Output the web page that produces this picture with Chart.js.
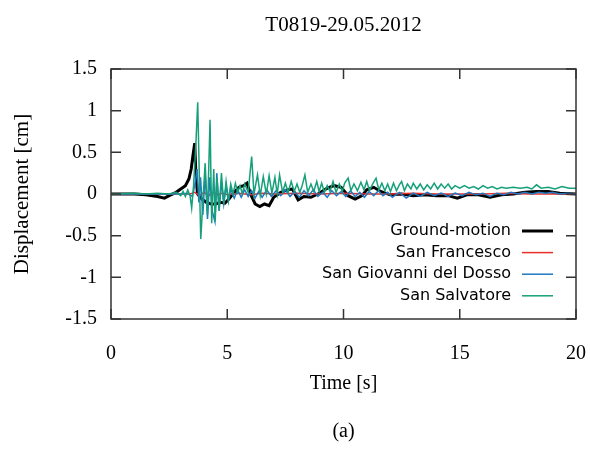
<!DOCTYPE html>
<html lang="en">
<head>
<meta charset="UTF-8">
<title>T0819-29.05.2012</title>
<script src="https://cdn.jsdelivr.net/npm/chart.js"></script>
<style>
  body { margin: 0; background: #fff; }
  #wrap { width: 590px; height: 449px; }
</style>
</head>
<body>
<div id="wrap"><canvas id="dispChart" width="590" height="449"></canvas></div>
<script>
// values (time in s, displacement in cm)
const xTicks = [0, 5, 10, 15, 20];
const yTicks = [-1.5, -1, -0.5, 0, 0.5, 1, 1.5];
const seriesNames = ['Ground-motion', 'San Francesco', 'San Giovanni del Dosso', 'San Salvatore'];

const gmTime = [0, 1.0, 1.5, 2.0, 2.3, 2.5, 2.8, 3.0, 3.2, 3.35, 3.45, 3.52, 3.6, 3.65, 3.72, 3.9, 4.1, 4.3, 4.5, 4.7, 4.9, 5.1, 5.3, 5.5, 5.7, 5.85, 6.0, 6.2, 6.4, 6.6, 6.8, 7.0, 7.3, 7.6, 7.8, 8.05, 8.3, 8.6, 8.9, 9.3, 9.6, 9.9, 10.2, 10.5, 10.8, 11.0, 11.3, 11.6, 12.0, 12.5, 13.0, 13.5, 14.0, 14.5, 14.9, 15.3, 15.8, 16.3, 16.8, 17.3, 17.8, 18.3, 18.8, 19.3, 20];
const gmDisp = [0, 0, -0.01, -0.03, -0.05, -0.02, 0.02, 0.06, 0.1, 0.18, 0.3, 0.45, 0.61, 0.25, 0.0, -0.06, -0.1, -0.12, -0.12, -0.1, -0.11, -0.05, 0.02, 0.08, 0.1, 0.13, 0.0, -0.12, -0.15, -0.12, -0.14, -0.04, 0.02, 0.05, 0.06, -0.07, -0.03, -0.04, 0.0, 0.07, 0.1, 0.08, -0.02, -0.06, -0.02, 0.05, 0.08, 0.03, -0.01, 0.0, -0.02, -0.01, -0.02, -0.02, -0.05, -0.01, -0.01, -0.04, -0.01, 0.0, 0.02, 0.03, 0.03, 0.01, 0.0];

const sfTime = [0, 3.4, 3.6, 3.8, 4.0, 4.2, 4.4, 4.6, 4.8, 5.0, 5.5, 6.0, 6.5, 7.0, 8.0, 9.0, 10.0, 11.0, 12.0, 13.0, 14.0, 15.0, 16.0, 17.0, 18.0, 19.0, 20];
const sfDisp = [0, 0, 0.02, -0.02, 0.02, -0.02, 0.02, -0.01, 0.01, -0.01, 0.01, -0.01, 0.01, 0.0, 0.01, 0.0, 0.01, 0.0, 0.0, 0.01, 0.0, 0.0, 0.0, 0.01, 0.0, 0.0, 0.0];

const sgTime = [0, 3.0, 3.3, 3.5, 3.6, 3.7, 3.78, 3.85, 3.95, 4.05, 4.15, 4.25, 4.35, 4.47, 4.55, 4.65, 4.75, 4.85, 4.95, 5.05, 5.15, 5.3, 5.45, 5.6, 5.75, 5.9, 6.05, 6.2, 6.35, 6.5, 6.7, 6.9, 7.1, 7.3, 7.5, 7.7, 7.9, 8.1, 8.3, 8.5, 8.7, 8.9, 9.1, 9.3, 9.5, 9.7, 9.9, 10.1, 10.3, 10.5, 10.7, 10.9, 11.1, 11.3, 11.5, 11.7, 11.9, 12.1, 12.4, 12.7, 13.0, 13.3, 13.6, 13.9, 14.2, 14.5, 14.8, 15.1, 15.4, 15.7, 16.0, 16.3, 16.6, 16.9, 17.2, 17.5, 17.8, 18.1, 18.4, 18.7, 19.0, 19.3, 19.6, 20];
const sgDisp = [0, 0, 0.01, -0.03, 0.1, 0.3, -0.1, 0.2, -0.25, 0.25, -0.3, 0.2, -0.2, -0.33, 0.25, -0.2, 0.15, -0.12, 0.1, -0.08, 0.06, -0.05, 0.05, -0.04, 0.05, -0.03, 0.04, -0.05, 0.03, -0.04, 0.05, -0.03, 0.04, -0.02, 0.05, -0.03, 0.03, -0.04, 0.04, -0.02, 0.05, -0.03, 0.02, -0.04, 0.04, -0.02, 0.03, -0.03, 0.04, -0.03, 0.02, -0.04, 0.03, -0.02, 0.04, -0.02, 0.02, -0.04, 0.02, -0.05, 0.01, -0.03, 0.02, -0.02, 0.01, -0.03, 0.01, -0.02, 0.02, -0.01, 0.01, -0.03, 0.01, -0.01, 0.02, 0.0, 0.02, 0.0, 0.02, 0.01, 0.02, 0.0, 0.01, 0.0];

const ssTime = [0, 1.0, 1.5, 2.0, 2.5, 2.8, 3.0, 3.1, 3.2, 3.3, 3.4, 3.47, 3.55, 3.65, 3.73, 3.8, 3.86, 3.95, 4.05, 4.15, 4.26, 4.33, 4.42, 4.48, 4.56, 4.65, 4.75, 4.85, 4.95, 5.05, 5.15, 5.25, 5.35, 5.45, 5.55, 5.65, 5.75, 5.9, 6.05, 6.15, 6.3, 6.42, 6.55, 6.68, 6.8, 6.92, 7.05, 7.15, 7.25, 7.38, 7.5, 7.62, 7.75, 7.88, 8.0, 8.12, 8.22, 8.34, 8.46, 8.6, 8.72, 8.85, 8.95, 9.06, 9.18, 9.3, 9.42, 9.55, 9.68, 9.82, 9.95, 10.05, 10.2, 10.32, 10.45, 10.6, 10.75, 10.88, 11.0, 11.12, 11.25, 11.4, 11.52, 11.65, 11.78, 11.9, 12.02, 12.15, 12.28, 12.4, 12.5, 12.62, 12.75, 12.9, 13.0, 13.15, 13.3, 13.45, 13.6, 13.75, 13.9, 14.05, 14.2, 14.35, 14.5, 14.65, 14.8, 15.0, 15.2, 15.4, 15.6, 15.8, 16.0, 16.2, 16.4, 16.6, 16.8, 17.0, 17.3, 17.6, 17.9, 18.1, 18.3, 18.5, 18.8, 19.1, 19.4, 19.7, 20];
const ssDisp = [0, 0.01, 0, 0.01, 0, 0.02, -0.02, 0.03, -0.03, 0.05, -0.02, -0.17, 0.1, 0.6, 1.1, 0.2, -0.54, -0.1, 0.37, -0.25, 0.89, -0.35, 0.3, -0.33, 0.2, -0.2, 0.25, -0.12, 0.15, -0.08, 0.12, 0.0, 0.13, 0.02, 0.1, 0.0, 0.12, 0.02, 0.45, 0.0, 0.23, -0.02, 0.21, 0.0, 0.22, 0.01, 0.2, 0.0, 0.23, 0.02, 0.13, 0.02, 0.15, 0.03, 0.12, 0.02, 0.1, 0.23, 0.02, 0.12, 0.03, 0.15, 0.03, 0.13, 0.02, 0.1, 0.03, 0.15, 0.02, 0.12, 0.03, 0.13, 0.19, 0.04, 0.12, 0.04, 0.14, 0.05, 0.15, 0.04, 0.12, 0.19, 0.05, 0.13, 0.04, 0.12, 0.03, 0.13, 0.04, 0.11, 0.15, 0.04, 0.12, 0.06, 0.13, 0.06, 0.12, 0.05, 0.11, 0.06, 0.13, 0.06, 0.12, 0.07, 0.12, 0.06, 0.1, 0.07, 0.1, 0.07, 0.09, 0.06, 0.1, 0.07, 0.09, 0.06, 0.08, 0.07, 0.08, 0.07, 0.08, 0.06, 0.11, 0.07, 0.08, 0.06, 0.09, 0.07, 0.07];

const colors = ['#000000', '#e8302a', '#1f78c1', '#16a07a'];
const widths = [3, 1.5, 1.5, 1.5];

function pts(t, v) {
    return t.map((x, i) => ({ x: x, y: v[i] }));
}

const serif = "'Liberation Serif', 'Times New Roman', serif";

// frame, inward ticks on all four sides, title, caption and legend
const gnuplotLook = {
    id: 'gnuplotLook',
    afterDraw(chart) {
        const ctx = chart.ctx;
        const a = chart.chartArea;
        const xs = chart.scales.x, ys = chart.scales.y;
        ctx.save();
        ctx.strokeStyle = '#333';
        ctx.lineWidth = 1.5;
        ctx.strokeRect(a.left, a.top, a.right - a.left, a.bottom - a.top);
        const tl = 10;
        ctx.beginPath();
        xTicks.forEach(v => {
            const px = xs.getPixelForValue(v);
            ctx.moveTo(px, a.bottom); ctx.lineTo(px, a.bottom - tl);
            ctx.moveTo(px, a.top); ctx.lineTo(px, a.top + tl);
        });
        yTicks.forEach(v => {
            const py = ys.getPixelForValue(v);
            ctx.moveTo(a.left, py); ctx.lineTo(a.left + tl, py);
            ctx.moveTo(a.right, py); ctx.lineTo(a.right - tl, py);
        });
        ctx.stroke();

        const cx = (a.left + a.right) / 2;
        ctx.fillStyle = '#000';
        ctx.textAlign = 'center';
        ctx.textBaseline = 'middle';
        ctx.font = '21px ' + serif;
        ctx.fillText('T0819-29.05.2012', cx, 25);
        ctx.font = '20px ' + serif;
        ctx.fillText('(a)', cx, 432);

        // legend, text right aligned with sample line to the right
        ctx.font = "16px 'DejaVu Sans', sans-serif";
        ctx.textAlign = 'right';
        seriesNames.forEach((name, i) => {
            const y = 231 + i * 21.6;
            ctx.fillStyle = '#000';
            ctx.fillText(name, 511, y);
            ctx.strokeStyle = colors[i];
            ctx.lineWidth = widths[i];
            ctx.beginPath();
            ctx.moveTo(522, y);
            ctx.lineTo(553, y);
            ctx.stroke();
        });
        ctx.restore();
    }
};

const datasets = [
    { label: seriesNames[0], data: pts(gmTime, gmDisp), order: 4 },
    { label: seriesNames[1], data: pts(sfTime, sfDisp), order: 3 },
    { label: seriesNames[2], data: pts(sgTime, sgDisp), order: 2 },
    { label: seriesNames[3], data: pts(ssTime, ssDisp), order: 1 }
].map((d, i) => Object.assign(d, {
    borderColor: colors[i],
    borderWidth: widths[i],
    pointRadius: 0,
    tension: 0,
    fill: false
}));

new Chart(document.getElementById('dispChart'), {
    type: 'line',
    data: { datasets: datasets },
    options: {
        responsive: false,
        animation: false,
        layout: { padding: { left: 0, right: 14, top: 69, bottom: 0 } },
        plugins: { legend: { display: false }, tooltip: { enabled: false } },
        scales: {
            x: {
                type: 'linear',
                min: 0, max: 20,
                afterBuildTicks: s => { s.ticks = xTicks.map(v => ({ value: v })); },
                afterFit: s => { s.height = 130; s.paddingLeft = 0; s.paddingRight = 0; },
                grid: { display: false, drawTicks: false },
                border: { display: false },
                ticks: { color: '#000', padding: 23, maxRotation: 0, font: { family: serif, size: 20 }, callback: v => String(v) },
                title: { display: true, text: 'Time [s]', color: '#000', font: { family: serif, size: 20 }, padding: { top: 6, bottom: 53 } }
            },
            y: {
                min: -1.5, max: 1.5,
                afterBuildTicks: s => { s.ticks = yTicks.map(v => ({ value: v })); },
                afterFit: s => { s.width = 111; s.paddingTop = 0; s.paddingBottom = 0; },
                grid: { display: false, drawTicks: false },
                border: { display: false },
                ticks: { color: '#000', padding: 14, font: { family: serif, size: 20 }, callback: v => String(v) },
                title: { display: true, text: 'Displacement [cm]', color: '#000', font: { family: serif, size: 21 }, padding: { top: 10, bottom: 0 } }
            }
        }
    },
    plugins: [gnuplotLook]
});
</script>
</body>
</html>
